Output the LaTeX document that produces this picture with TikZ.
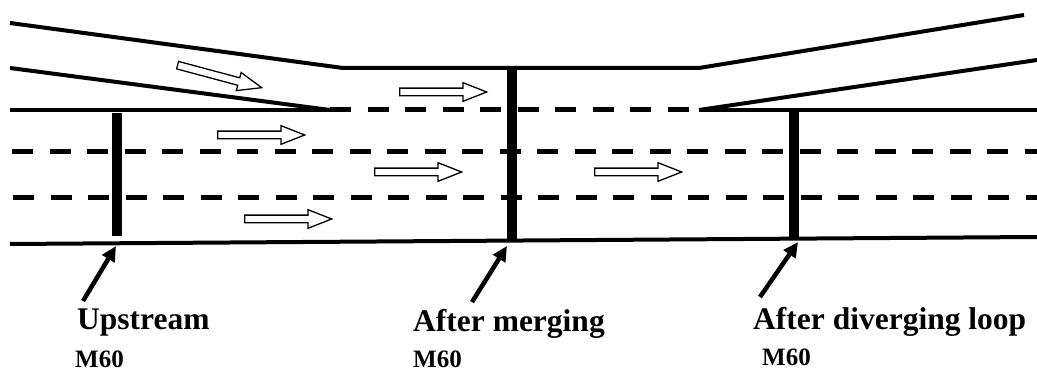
\documentclass[tikz,border=0pt]{standalone}
\usepackage{fontspec}
\setmainfont{Liberation Serif}
\usetikzlibrary{shapes.arrows,arrows.meta}
\begin{document}
\begin{tikzpicture}[x=1pt,y=-1pt,
  road/.style={line width=4pt},
  lanemark/.style={line width=5pt, dash pattern=on 21pt off 16.5pt},
  detector/.style={line width=10pt},
  flow/.style={single arrow, draw=black, fill=white, line width=1.3pt,
    minimum height=87pt, minimum width=0pt, inner xsep=0pt, inner ysep=3.2pt,
    text height=0pt, text depth=0pt, single arrow head extend=5.5pt,
    single arrow tip angle=43, anchor=tail},
  annot/.style={line width=4.5pt, -{Triangle[length=15pt,width=14pt]}},
  lbl/.style={anchor=base west, inner sep=0pt, font=\bfseries\fontsize{31.5}{36}\selectfont},
  sublbl/.style={anchor=base west, inner sep=0pt, font=\bfseries\fontsize{25}{30}\selectfont}]
\useasboundingbox (0,0) rectangle (1037,371);
% road edges
\draw[road] (10,23) -- (343,68) -- (699,68) -- (1024,15);
\draw[road] (10,68) -- (330,110);
\draw[road] (10,110) -- (331,110);
\draw[road] (699,110) -- (1037,110);
\draw[road] (699,110) -- (1037,60);
\draw[road] (10,244) -- (1037,237);
% lane markings
\draw[lanemark] (330,110) -- (700,110);
\draw[lanemark] (12,152) -- (1037,152);
\draw[lanemark] (13,198) -- (1037,198);
% detectors
\draw[detector] (117,113) -- (117,236);
\draw[detector] (512,68) -- (512,240);
\draw[detector] (794,112) -- (794,237);
\coordinate (d1) at (116,246);
\coordinate (d2) at (507,246);
\coordinate (d3) at (798,242);
% traffic flow arrows
\node[flow, rotate=-15] (f1) at (177,65) {};
\node[flow] (f2) at (399,92) {};
\node[flow] (f3) at (217,135) {};
\node[flow] (f4) at (374,172) {};
\node[flow] (f5) at (244,219) {};
\node[flow] (f6) at (594,172) {};
% labels
\node[lbl] (up) at (77,330) {Upstream};
\node[lbl] (am) at (413,332) {After merging};
\node[lbl] (adl) at (753,330) {After diverging loop};
\node[sublbl] (m1) at (75,367.5) {M60};
\node[sublbl] (m2) at (413,367.5) {M60};
\node[sublbl] (m3) at (762,366) {M60};
\coordinate (t1) at (83,301);
\coordinate (t2) at (472,302);
\coordinate (t3) at (760,297);
\draw[annot] (t1) -- (d1);
\draw[annot] (t2) -- (d2);
\draw[annot] (t3) -- (d3);
\end{tikzpicture}
\end{document}
